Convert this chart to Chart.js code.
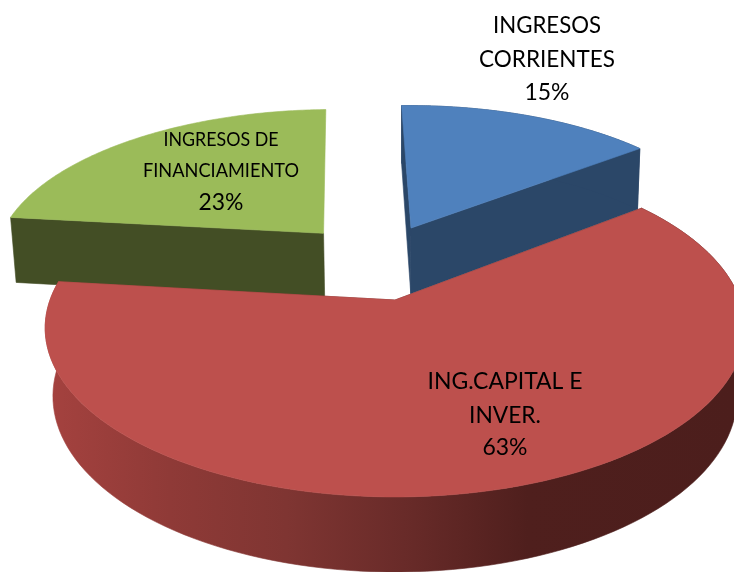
<!DOCTYPE html>
<html><head><meta charset="utf-8">
<style>html,body{margin:0;padding:0;background:#fff;overflow:hidden}canvas{display:block}</style>
<script src="https://cdn.jsdelivr.net/npm/chart.js@4"></script>
</head><body>
<canvas id="c" width="734" height="572"></canvas>
<script>
const categories = ["INGRESOS CORRIENTES", "ING.CAPITAL E INVER.", "INGRESOS DE FINANCIAMIENTO"];
const percentages = [15, 63, 23];
const labelLines = [["INGRESOS", "CORRIENTES"], ["ING.CAPITAL E", "INVER."], ["INGRESOS DE", "FINANCIAMIENTO"]];
const topColors = ["#4f81bd", "#bd504d", "#9bbb59"];
const wallColors = ["#2b4768", "#6e2b29", "#434e25"];

// exploded offset of each slice on the tilted disk (radius units)
const explode = [[0.05, 0.472], [0, 0], [-0.222, 0.435]];
// perspective of the top face and the bottom face of the extruded disk
const faces = {
  top:    {X: 395, K: 345, a: -114.6, b: 300,   c: 0.1657},
  bottom: {X: 395, K: 338, a: -114.7, b: 369.2, c: 0.154}
};
// label anchors: centre x, baseline of the first line, line pitch, sizes, fitted widths
const labelStyle = [
  {x: 547, y: 33,  dy: 33.5, size: 22.5, pct: 23, w: [108, 136], pw: 45, py: 100},
  {x: 505, y: 389, dy: 34,   size: 24,   pct: 24, w: [155, 72],  pw: 45, py: 455},
  {x: 221, y: 146, dy: 31,   size: 18.5, pct: 24, w: [115, 156], pw: 45, py: 210}
];

function project(u, v, f) {
  const d = 1 + f.c * v;
  return [f.X + f.K * u / d, (f.a * v + f.b) / d];
}
function rimPoint(i, ang, f) {
  return project(Math.cos(ang) + explode[i][0], -Math.sin(ang) + explode[i][1], f);
}
function tipPoint(i, f) {
  return project(explode[i][0], explode[i][1], f);
}
function rimAngles(s, e) {
  const n = 120, pts = [];
  for (let k = 0; k <= n; k++) pts.push(s + (e - s) * k / n);
  return pts;
}
function poly(ctx, pts, fill) {
  ctx.beginPath();
  pts.forEach((p, k) => k ? ctx.lineTo(p[0], p[1]) : ctx.moveTo(p[0], p[1]));
  ctx.closePath();
  ctx.fillStyle = fill;
  ctx.fill();
  ctx.strokeStyle = fill;
  ctx.lineWidth = 0.6;
  ctx.stroke();
}
function redWall(ctx) {
  const g = ctx.createLinearGradient(46, 0, 734, 0);
  g.addColorStop(0, "#a5423f");
  g.addColorStop(0.18, "#8f3a37");
  g.addColorStop(0.35, "#7f3532");
  g.addColorStop(0.52, "#692b29");
  g.addColorStop(0.70, "#4f1f1d");
  g.addColorStop(1, "#4c1e1c");
  return g;
}

const pie3d = {
  id: "pie3d",
  beforeDatasetDraw(chart) {
    const ctx = chart.ctx;
    const arcs = chart.getDatasetMeta(0).data;
    ctx.save();
    [0, 2, 1].forEach(i => {
      const s = arcs[i].startAngle, e = arcs[i].endAngle;
      const angs = rimAngles(s, e);
      const wall = i === 1 ? redWall(ctx) : wallColors[i];
      // radial walls (the green slice's far wall is hidden in the reference)
      poly(ctx, [tipPoint(i, faces.top), rimPoint(i, s, faces.top), rimPoint(i, s, faces.bottom), tipPoint(i, faces.bottom)], wall);
      if (i !== 2) poly(ctx, [tipPoint(i, faces.top), rimPoint(i, e, faces.top), rimPoint(i, e, faces.bottom), tipPoint(i, faces.bottom)], wall);
      // outer wall
      const up = angs.map(a => rimPoint(i, a, faces.top));
      if (i !== 2) {
        const down = angs.map(a => rimPoint(i, a, faces.bottom)).reverse();
        poly(ctx, up.concat(down), wall);
      }
      // top face
      poly(ctx, [tipPoint(i, faces.top)].concat(up), topColors[i]);
    });
    ctx.restore();
    return false;
  },
  afterDatasetsDraw(chart) {
    const ctx = chart.ctx;
    ctx.save();
    ctx.fillStyle = "#000";
    ctx.textAlign = "center";
    ctx.textBaseline = "alphabetic";
    labelLines.forEach((lines, i) => {
      const st = labelStyle[i];
      ctx.font = st.size + 'px Lato';
      lines.forEach((t, k) => ctx.fillText(t, st.x, st.y + k * st.dy, st.w[k]));
      ctx.font = st.pct + 'px Lato';
      ctx.fillText(percentages[i] + "%", st.x, st.py, st.pw);
    });
    ctx.restore();
  }
};

new Chart(document.getElementById("c"), {
  type: "pie",
  data: {
    labels: categories,
    datasets: [{data: percentages, backgroundColor: topColors, borderWidth: 0}]
  },
  options: {
    responsive: false,
    animation: false,
    rotation: -1.5,
    events: [],
    layout: {padding: 0},
    plugins: {legend: {display: false}, tooltip: {enabled: false}, title: {display: false}}
  },
  plugins: [pie3d]
});
</script>
</body></html>
